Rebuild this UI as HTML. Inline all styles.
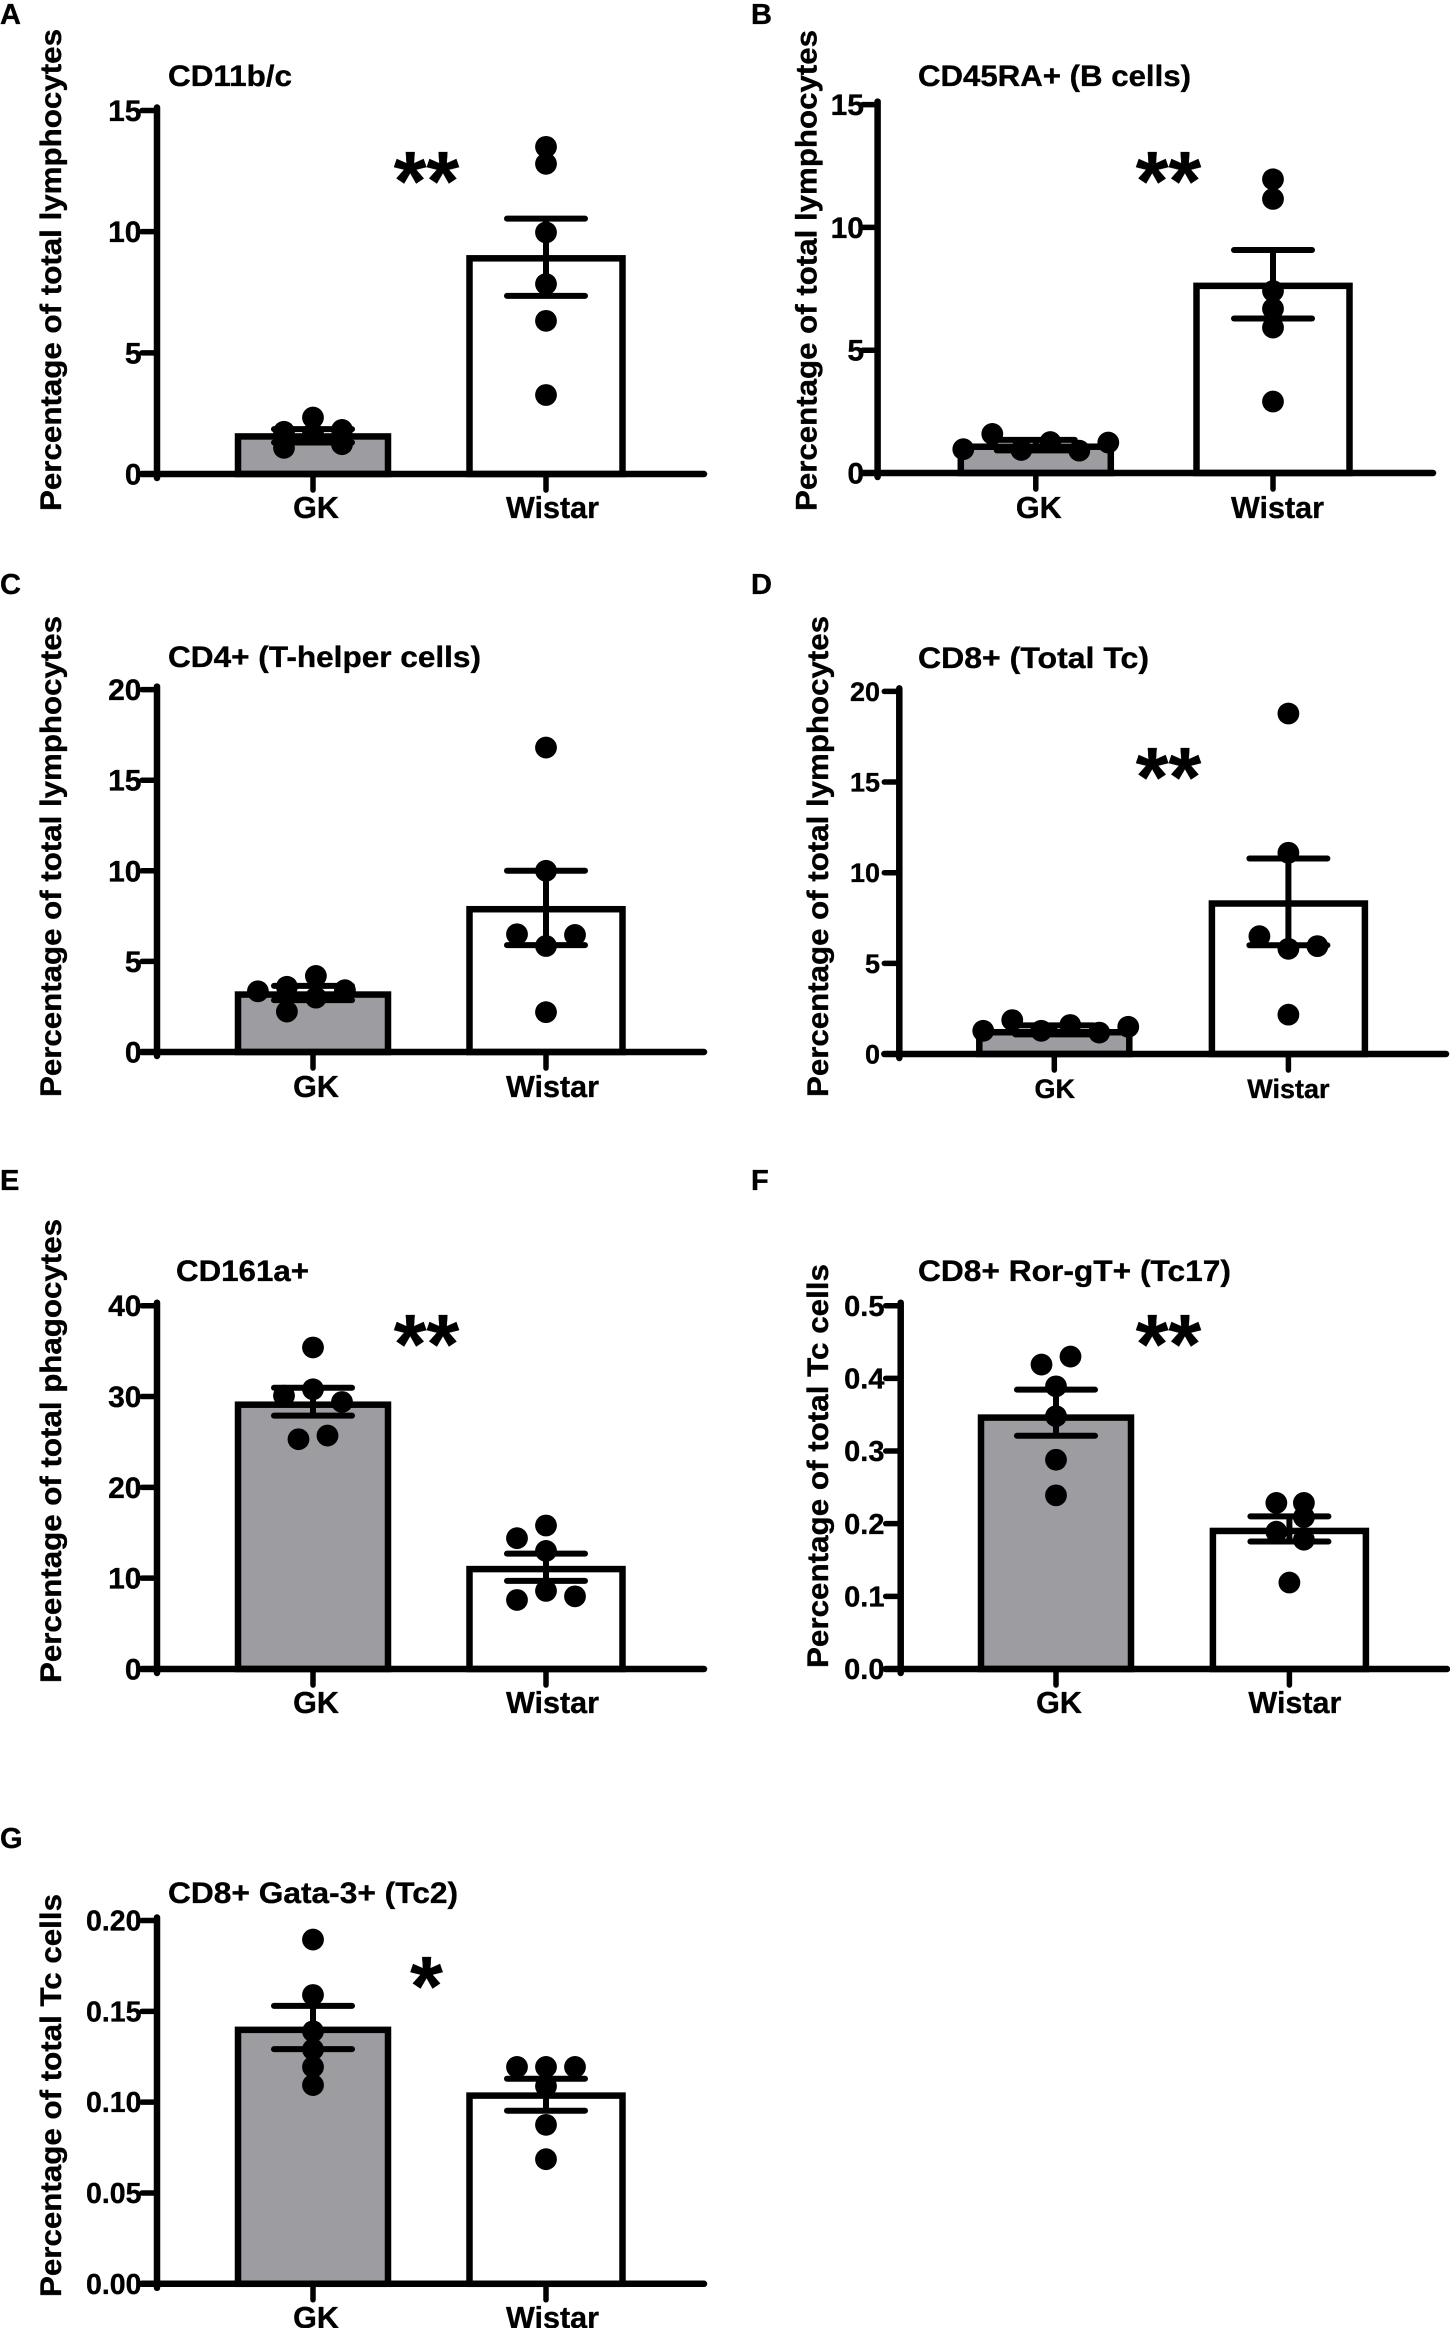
<!DOCTYPE html>
<html lang="en">
<head>
<meta charset="utf-8">
<title>Lymphocyte percentages in GK and Wistar rats</title>
<style>
html,body{margin:0;padding:0;background:#fff;width:1450px;height:2328px;overflow:hidden}
svg{display:block;filter:blur(.35px)}
text{font-family:"Liberation Sans",Arial,sans-serif;font-weight:700;fill:#000;stroke:#000;stroke-width:.35px}
.letter{font-size:29px}
.title{font-size:30px}
.ytitle{font-size:30px}
.star{font-size:84px;text-anchor:middle}
</style>
</head>
<body>
<svg id="figure" xmlns="http://www.w3.org/2000/svg" width="1450" height="2328" viewBox="0 0 1450 2328">
  <g id="panel-a">
    <text class="letter" x="0" y="24">A</text>
    <text class="title" x="168" y="86" textLength="124" lengthAdjust="spacingAndGlyphs">CD11b/c</text>
    <text class="ytitle" transform="translate(61,511) rotate(-90)" textLength="482" lengthAdjust="spacingAndGlyphs">Percentage of total lymphocytes</text>
    <text class="star" x="426.5" y="210">**</text>
  </g>
  <g id="panel-b">
    <text class="letter" x="751" y="24">B</text>
    <text class="title" x="918" y="86" textLength="273" lengthAdjust="spacingAndGlyphs">CD45RA+ (B cells)</text>
    <text class="ytitle" transform="translate(816.5,511) rotate(-90)" textLength="481" lengthAdjust="spacingAndGlyphs">Percentage of total lymphocytes</text>
    <text class="star" x="1168.5" y="210">**</text>
  </g>
  <g id="panel-c">
    <text class="letter" x="0" y="594">C</text>
    <text class="title" x="168" y="667" textLength="313" lengthAdjust="spacingAndGlyphs">CD4+ (T-helper cells)</text>
    <text class="ytitle" transform="translate(61,1097) rotate(-90)" textLength="481" lengthAdjust="spacingAndGlyphs">Percentage of total lymphocytes</text>
  </g>
  <g id="panel-d">
    <text class="letter" x="751" y="594">D</text>
    <text class="title" x="918" y="668" textLength="231" lengthAdjust="spacingAndGlyphs">CD8+ (Total Tc)</text>
    <text class="ytitle" transform="translate(828,1097) rotate(-90)" textLength="481" lengthAdjust="spacingAndGlyphs">Percentage of total lymphocytes</text>
    <text class="star" x="1168.5" y="806">**</text>
  </g>
  <g id="panel-e">
    <text class="letter" x="0" y="1190">E</text>
    <text class="title" x="176" y="1281" textLength="133" lengthAdjust="spacingAndGlyphs">CD161a+</text>
    <text class="ytitle" transform="translate(61,1683) rotate(-90)" textLength="464" lengthAdjust="spacingAndGlyphs">Percentage of total phagocytes</text>
    <text class="star" x="426.5" y="1373">**</text>
  </g>
  <g id="panel-f">
    <text class="letter" x="751" y="1190">F</text>
    <text class="title" x="918" y="1281" textLength="313" lengthAdjust="spacingAndGlyphs">CD8+ Ror-gT+ (Tc17)</text>
    <text class="ytitle" transform="translate(828,1668) rotate(-90)" textLength="404" lengthAdjust="spacingAndGlyphs">Percentage of total Tc cells</text>
    <text class="star" x="1168.5" y="1373">**</text>
  </g>
  <g id="panel-g">
    <text class="letter" x="0" y="1848">G</text>
    <text class="title" x="168" y="1903" textLength="290" lengthAdjust="spacingAndGlyphs">CD8+ Gata-3+ (Tc2)</text>
    <text class="ytitle" transform="translate(61,2297) rotate(-90)" textLength="403" lengthAdjust="spacingAndGlyphs">Percentage of total Tc cells</text>
    <text class="star" x="426.5" y="2015">*</text>
  </g>
</svg>
<script>
const categories = ['GK', 'Wistar'];

const aTickLabels = ['0', '5', '10', '15'];
const aMeans = [1.55, 8.9];
const aUpper = [1.85, 10.54];
const aLower = [1.3, 7.35];
const aGkDots = [2.33, 1.82, 1.74, 1.08, 1.23, 1.67];
const aGkSlots = [0, 1, -1, -1, 1, 0];
const aWistarDots = [13.5, 12.8, 9.97, 7.84, 6.32, 3.26];
const aWistarSlots = [0, 0, 0, 0, 0, 0];

const bTickLabels = ['0', '5', '10', '15'];
const bMeans = [1.07, 7.62];
const bUpper = [1.35, 9.08];
const bLower = [0.92, 6.29];
const bGkDots = [0.97, 1.59, 0.94, 1.26, 0.91, 1.24];
const bGkSlots = [-2.5, -1.5, -0.5, 0.5, 1.5, 2.5];
const bWistarDots = [11.96, 11.16, 7.41, 6.69, 5.92, 2.91];
const bWistarSlots = [0, 0, 0, 0, 0, 0];

const cTickLabels = ['0', '5', '10', '15', '20'];
const cMeans = [3.17, 7.88];
const cUpper = [3.65, 10];
const cLower = [2.86, 5.9];
const cGkDots = [4.2, 3.6, 3.35, 3.41, 3.0, 2.23];
const cGkSlots = [0.1, -0.9, -1.9, 1.1, 0.1, -0.9];
const cWistarDots = [16.8, 10, 6.5, 6.46, 5.85, 2.2];
const cWistarSlots = [0, 0, -1, 1, 0, 0];

const dTickLabels = ['0', '5', '10', '15', '20'];
const dMeans = [1.2, 8.3];
const dUpper = [1.58, 10.78];
const dLower = [1.08, 6.0];
const dGkDots = [1.28, 1.87, 1.28, 1.6, 1.18, 1.5];
const dGkSlots = [-2.45, -1.45, -0.45, 0.55, 1.55, 2.55];
const dWistarDots = [18.78, 11.1, 6.5, 5.8, 5.95, 2.17];
const dWistarSlots = [0, 0, -1, 0, 1, 0];

const eTickLabels = ['0', '10', '20', '30', '40'];
const eMeans = [29.1, 11.0];
const eUpper = [30.96, 12.7];
const eLower = [27.9, 9.7];
const eGkDots = [35.4, 30.8, 30.1, 29.4, 25.7, 25.3];
const eGkSlots = [0, 0, -1, 1, 0.5, -0.5];
const eWistarDots = [15.8, 14.4, 13, 8.6, 8, 7.6];
const eWistarSlots = [0, -1, 0, 0, 1, -1];

const fTickLabels = ['0.0', '0.1', '0.2', '0.3', '0.4', '0.5'];
const fMeans = [0.346, 0.19];
const fUpper = [0.3845, 0.21];
const fLower = [0.321, 0.1755];
const fGkDots = [0.43, 0.419, 0.389, 0.348, 0.288, 0.239];
const fGkSlots = [0.5, -0.5, 0, 0, 0, 0];
const fWistarDots = [0.2286, 0.2286, 0.209, 0.189, 0.178, 0.119];
const fWistarSlots = [-0.45, 0.5, 0.5, -0.45, 0.5, 0];

const gTickLabels = ['0.00', '0.05', '0.10', '0.15', '0.20'];
const gMeans = [0.1398, 0.1036];
const gUpper = [0.153, 0.1129];
const gLower = [0.1292, 0.0953];
const gGkDots = [0.1895, 0.159, 0.139, 0.129, 0.1194, 0.1094];
const gGkSlots = [0, 0, 0, 0, 0, 0];
const gWistarDots = [0.1194, 0.1194, 0.1194, 0.1088, 0.0875, 0.0686];
const gWistarSlots = [-1, 0, 1, 0, 0, 0];

const NS = 'http://www.w3.org/2000/svg';
const INK = '#000';
const GK_FILL = '#9d9ca1';
const WISTAR_FILL = '#fff';
const BAR_WIDTHS = [150, 153];

function shape(tag, attrs, parent) {
  const el = document.createElementNS(NS, tag);
  for (const key in attrs) el.setAttribute(key, attrs[key]);
  parent.appendChild(el);
  return el;
}

function renderPanel(id, frame, ticks, means, upper, lower, gkDots, gkSlots, wiDots, wiSlots) {
  const root = document.getElementById('panel-' + id);
  const yMax = Number(ticks[ticks.length - 1]);
  const yScale = v => frame.y0 - (v / yMax) * (frame.y0 - frame.yTop);
  const xBand = i => frame.centers[i];
  const fills = [GK_FILL, WISTAR_FILL];
  const dotSets = [gkDots, wiDots];
  const slotSets = [gkSlots, wiSlots];

  categories.forEach((cat, i) => {
    const key = cat.toLowerCase();
    const bar = shape('rect', {
      x: xBand(i) - BAR_WIDTHS[i] / 2, y: yScale(means[i]), width: BAR_WIDTHS[i], height: frame.y0 - yScale(means[i]),
      fill: fills[i], stroke: INK, 'stroke-width': 6.5
    }, root);
    
    
  });

  const yAxis = shape('line', {
    x1: frame.axisX, x2: frame.axisX, y1: frame.yTop - 3, y2: frame.y0 + 4,
    stroke: INK, 'stroke-width': 6.5, 'stroke-linecap': 'round'
  }, root);
  
  

  const xAxis = shape('line', {
    x1: frame.axisX - 15, x2: frame.xEnd, y1: frame.y0, y2: frame.y0,
    stroke: INK, 'stroke-width': 6.5, 'stroke-linecap': 'round'
  }, root);
  
  

  ticks.forEach(label => {
    const y = yScale(Number(label));
    const tick = shape('line', {
      x1: frame.axisX - 15, x2: frame.axisX, y1: y, y2: y,
      stroke: INK, 'stroke-width': 5.5, 'stroke-linecap': 'round'
    }, root);
    
    

    const text = shape('text', {
      x: frame.labelRight, y: y + frame.tickFont * 0.35,
      'text-anchor': 'end', 'font-size': frame.tickFont
    }, root);
    text.textContent = label;
    
    
  });

  categories.forEach((cat, i) => {
    const key = cat.toLowerCase();
    const cx = xBand(i);

    const tick = shape('line', {
      x1: cx, x2: cx, y1: frame.y0, y2: frame.y0 + 16,
      stroke: INK, 'stroke-width': 5.5, 'stroke-linecap': 'round'
    }, root);
    
    

    const text = shape('text', {
      x: cx + frame.labelShift[i], y: frame.labelBase,
      'text-anchor': 'middle', 'font-size': frame.catFont
    }, root);
    text.textContent = cat;
    
    

    const stem = shape('line', {
      x1: cx, x2: cx, y1: yScale(upper[i]), y2: yScale(lower[i]),
      stroke: INK, 'stroke-width': 6
    }, root);
    
    

    [upper[i], lower[i]].forEach(v => {
      const cap = shape('line', {
        x1: cx - 39, x2: cx + 39, y1: yScale(v), y2: yScale(v),
        stroke: INK, 'stroke-width': 6, 'stroke-linecap': 'round'
      }, root);
      
      
    });

    dotSets[i].forEach((v, j) => {
      const dot = shape('circle', {
        cx: cx + slotSets[i][j] * 29, cy: yScale(v), r: 10.9, fill: INK
      }, root);
      
      
    });
  });
}

renderPanel('a', {axisX: 157, y0: 474, yTop: 110.5, xEnd: 704, centers: [313, 546], labelRight: 141.5, tickFont: 30, catFont: 30.5, labelBase: 518, labelShift: [3, 6.5]},
  aTickLabels, aMeans, aUpper, aLower, aGkDots, aGkSlots, aWistarDots, aWistarSlots);
renderPanel('b', {axisX: 877.6, y0: 473, yTop: 104.6, xEnd: 1433, centers: [1035.8, 1273], labelRight: 864, tickFont: 30, catFont: 30.5, labelBase: 518, labelShift: [3, 4.5]},
  bTickLabels, bMeans, bUpper, bLower, bGkDots, bGkSlots, bWistarDots, bWistarSlots);
renderPanel('c', {axisX: 157, y0: 1052, yTop: 689.6, xEnd: 704, centers: [313, 546], labelRight: 141.5, tickFont: 30, catFont: 30.5, labelBase: 1097, labelShift: [3, 6.5]},
  cTickLabels, cMeans, cUpper, cLower, cGkDots, cGkSlots, cWistarDots, cWistarSlots);
renderPanel('d', {axisX: 899.3, y0: 1054, yTop: 691.4, xEnd: 1446, centers: [1054.3, 1288.4], labelRight: 880, tickFont: 27, catFont: 27, labelBase: 1098, labelShift: [0.5, 0]},
  dTickLabels, dMeans, dUpper, dLower, dGkDots, dGkSlots, dWistarDots, dWistarSlots);
renderPanel('e', {axisX: 157, y0: 1669, yTop: 1305.7, xEnd: 704, centers: [313, 546], labelRight: 141.5, tickFont: 30, catFont: 30.5, labelBase: 1713, labelShift: [3, 6.5]},
  eTickLabels, eMeans, eUpper, eLower, eGkDots, eGkSlots, eWistarDots, eWistarSlots);
renderPanel('f', {axisX: 900.7, y0: 1669, yTop: 1305.7, xEnd: 1447, centers: [1056, 1289.4], labelRight: 884.5, tickFont: 29, catFont: 30.5, labelBase: 1713, labelShift: [3, 5.5]},
  fTickLabels, fMeans, fUpper, fLower, fGkDots, fGkSlots, fWistarDots, fWistarSlots);
renderPanel('g', {axisX: 157, y0: 2283.8, yTop: 1920.5, xEnd: 704, centers: [313, 546], labelRight: 141.5, tickFont: 28.5, catFont: 30.5, labelBase: 2328, labelShift: [3, 6.5]},
  gTickLabels, gMeans, gUpper, gLower, gGkDots, gGkSlots, gWistarDots, gWistarSlots);
</script>
</body>
</html>
